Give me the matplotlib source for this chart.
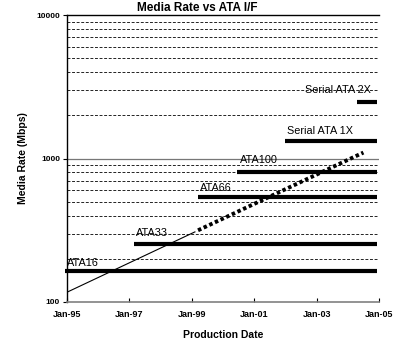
import matplotlib
matplotlib.use("Agg")
import matplotlib.pyplot as plt
from matplotlib.ticker import FixedLocator, NullFormatter

plt.rcParams['font.family'] = ['Liberation Sans', 'DejaVu Sans']

# Interface speeds: name, introduction (decimal year), media rate in Mbps
interfaces = ["ATA16", "ATA33", "ATA66", "ATA100", "Serial ATA 1X", "Serial ATA 2X"]
start_year = [1994.93, 1997.15, 1999.2, 2000.45, 2002.0, 2004.3]
rate_mbps = [164, 254, 536, 800, 1330, 2470]
end_year = 2004.95

# Label anchor positions for each interface
label_year = [1995.0, 1997.2, 1999.25, 2000.56, 2002.06, 2002.64]
label_rate = [187, 303, 622, 975, 1555, 2990]

# Media-rate trend: measured part and projected part
trend_year = [1995.0, 1999.1]
trend_rate = [117, 308]
proj_year = [1999.2, 2004.5]
proj_rate = [316, 1100]

xticks = [1995, 1997, 1999, 2001, 2003, 2005]
xtick_labels = ["Jan-95", "Jan-97", "Jan-99", "Jan-01", "Jan-03", "Jan-05"]

fig = plt.figure(figsize=(3.94, 3.42), dpi=100)
ax = fig.add_axes([67/394, 40/342, 312/394, 287/342])
ax.set_yscale('log')
ax.set_ylim(100, 10000)
ax.set_xlim(1995, 2005)

# gridlines: dashed minor, solid major at 1000
minor_vals = [m * d for d in (100, 1000) for m in range(2, 10)]
for v in minor_vals:
    ax.axhline(v, color='black', lw=0.6, ls=(0, (3.5, 2)), zorder=1)
ax.axhline(1000, color='#777777', lw=0.9, zorder=1)

ax.plot(trend_year, trend_rate, color='black', lw=0.8, zorder=3)
ax.plot(proj_year, proj_rate, color='black', lw=2.8,
        ls=(0, (0.9, 0.7)), dash_capstyle='butt', zorder=3)

for s, r in zip(start_year, rate_mbps):
    ax.plot([s, end_year], [r, r], color='black', lw=3.0,
            solid_capstyle='butt', zorder=4, clip_on=False)

for name, lx, ly in zip(interfaces, label_year, label_rate):
    ax.text(lx, ly, name, fontsize=7.8, ha='left', va='center', zorder=5)

ax.spines['right'].set_visible(False)
ax.spines['top'].set_color('black')
ax.spines['top'].set_linewidth(1.0)
ax.spines['left'].set_color('black')
ax.spines['left'].set_linewidth(1.0)
ax.spines['bottom'].set_color('#808080')
ax.spines['bottom'].set_linewidth(1.2)

ax.yaxis.set_major_locator(FixedLocator([100, 1000, 10000]))
ax.yaxis.set_minor_locator(FixedLocator([]))
ax.yaxis.set_minor_formatter(NullFormatter())
ax.set_yticklabels(["100", "1000", "10000"])
ax.set_xticks(xticks)
ax.set_xticklabels(xtick_labels)
ax.tick_params(axis='y', direction='out', length=3, width=0.8,
               labelsize=6, pad=2)
ax.tick_params(axis='x', direction='in', length=3, width=0.8,
               labelsize=6.5, pad=6)
for lab in ax.get_xticklabels() + ax.get_yticklabels():
    lab.set_fontweight('bold')

ax.set_xlabel("Production Date", fontsize=7.5, fontweight='bold', labelpad=8)
ax.set_ylabel("Media Rate (Mbps)", fontsize=7.5, fontweight='bold', labelpad=6)

# chart title in the narrow band above the plot
fig.text(0.5, 1 - 2/342, "Media Rate vs ATA I/F", ha='center', va='top',
         fontsize=8.5, fontweight='bold')

fig.savefig("out.png", dpi=100)
